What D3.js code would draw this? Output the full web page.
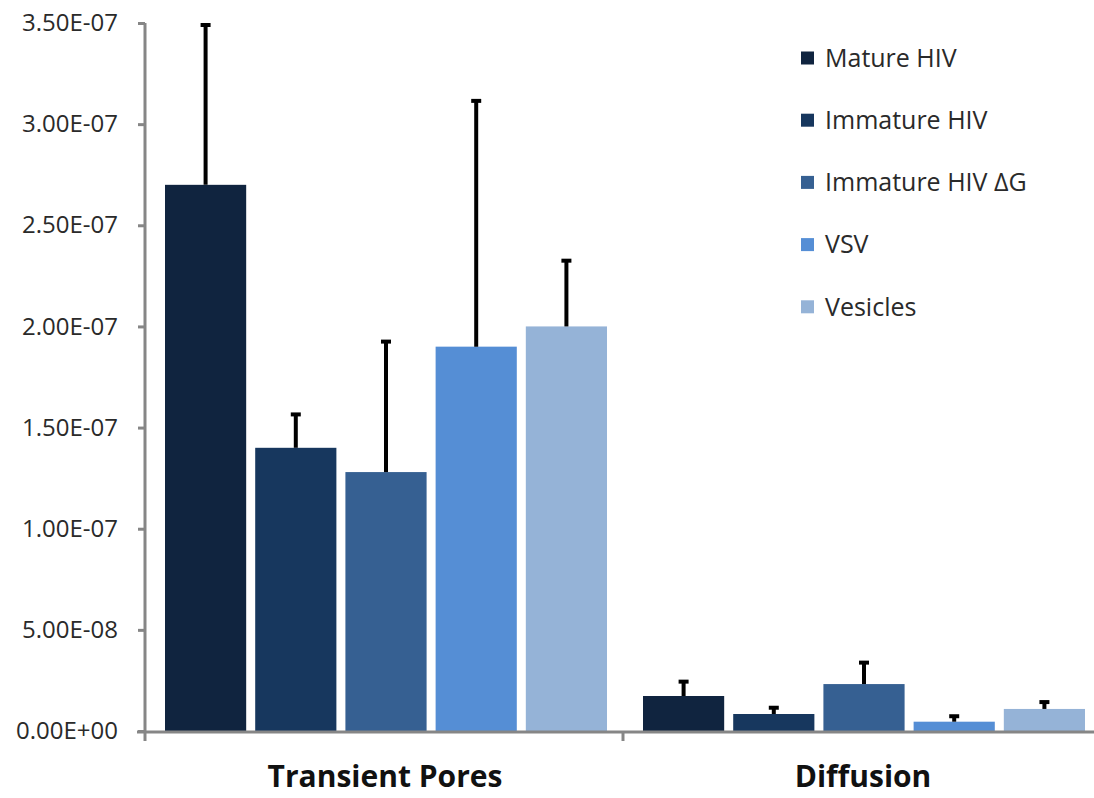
<!DOCTYPE html>
<html><head><meta charset="utf-8">
<script src="https://cdn.jsdelivr.net/npm/d3@7"></script>
<style>body{margin:0;background:#fff}svg{display:block}</style>
</head><body><svg id="c" width="1094" height="798"></svg>
<script>
const categories = ["Transient Pores", "Diffusion"];
const seriesNames = ["Mature HIV", "Immature HIV", "Immature HIV \u0394G", "VSV", "Vesicles"];
const colors = ["#10243f", "#17375e", "#366092", "#558ed5", "#95b3d7"];
const matureHIV = [2.70e-7, 1.73e-8];
const immatureHIV = [1.40e-7, 0.84e-8];
const immatureHIVdG = [1.28e-7, 2.32e-8];
const vsv = [1.90e-7, 0.46e-8];
const vesicles = [2.00e-7, 1.09e-8];
const errMature = [0.79e-7, 0.71e-8];
const errImmature = [0.165e-7, 0.31e-8];
const errImmaturedG = [0.645e-7, 1.06e-8];
const errVsv = [1.215e-7, 0.27e-8];
const errVesicles = [0.325e-7, 0.34e-8];
const yTicks = [0, 5e-8, 1e-7, 1.5e-7, 2e-7, 2.5e-7, 3e-7, 3.5e-7];

const values = [matureHIV, immatureHIV, immatureHIVdG, vsv, vesicles];
const errors = [errMature, errImmature, errImmaturedG, errVsv, errVesicles];

const svg = d3.select("#c");
const x0 = d3.scaleBand().domain(categories).range([145, 1101]).paddingInner(0).paddingOuter(0);
const x1 = d3.scaleBand().domain(seriesNames).range([20, 478 - 16]).paddingInner(0.1).paddingOuter(0);
const y = d3.scaleLinear().domain([0, 3.5e-7]).range([731, 23]);

const fmt = v => {
  if (v === 0) return "0.00E+00";
  const e = Math.floor(Math.log10(v) + 1e-9);
  const m = v / Math.pow(10, e);
  return m.toFixed(2) + "E" + (e < 0 ? "-" : "+") + String(Math.abs(e)).padStart(2, "0");
};

// bars
const g = svg.append("g");
categories.forEach((c, ci) => {
  seriesNames.forEach((s, si) => {
    const v = values[si][ci];
    g.append("rect")
      .attr("x", x0(c) + x1(s))
      .attr("y", y(v))
      .attr("width", x1.bandwidth())
      .attr("height", y(0) - y(v))
      .attr("fill", colors[si]);
  });
});

// y axis
const yAxis = d3.axisLeft(y).tickValues(yTicks).tickFormat(fmt).tickSize(7).tickPadding(20);
const ya = svg.append("g").attr("transform", "translate(145,0)").call(yAxis);
ya.select(".domain").attr("stroke", "#868686").attr("stroke-width", 3).attr("d", "M0,23V733");
ya.selectAll(".tick line").attr("stroke", "#868686").attr("stroke-width", 3);
ya.selectAll(".tick text").attr("fill", "#2a2a2a").style("font-family", "'Open Sans', sans-serif").style("font-size", "24px");

// x axis
const xa = svg.append("g").attr("transform", "translate(0,732)");
xa.append("line").attr("x1", 137).attr("x2", 1094).attr("y1", 0).attr("y2", 0).attr("stroke", "#868686").attr("stroke-width", 3);
categories.concat([null]).forEach((c, i) => {
  const xx = c ? x0(c) : x0.range()[1];
  xa.append("line").attr("x1", xx).attr("x2", xx).attr("y1", 0).attr("y2", 9).attr("stroke", "#868686").attr("stroke-width", 3);
});
categories.forEach(c => {
  xa.append("text").attr("x", x0(c) + x0.bandwidth() / 2 + 1).attr("y", 55)
    .attr("text-anchor", "middle").attr("fill", "#111")
    .style("font-family", "'Open Sans', sans-serif").style("font-weight", "bold").style("font-size", "30px")
    .text(c);
});

// error bars
const eg = svg.append("g");
categories.forEach((c, ci) => {
  seriesNames.forEach((s, si) => {
    const v = values[si][ci], e = errors[si][ci];
    const cx = x0(c) + x1(s) + x1.bandwidth() / 2;
    eg.append("line").attr("x1", cx).attr("x2", cx).attr("y1", y(v)).attr("y2", y(v + e))
      .attr("stroke", "#000").attr("stroke-width", 4);
    eg.append("line").attr("x1", cx - 5).attr("x2", cx + 5).attr("y1", y(v + e)).attr("y2", y(v + e))
      .attr("stroke", "#000").attr("stroke-width", 4);
  });
});

// legend
const lg = svg.append("g");
seriesNames.forEach((s, i) => {
  const cy = 58 + i * 62.2;
  lg.append("rect").attr("x", 801).attr("y", cy - 6.5).attr("width", 13).attr("height", 13).attr("fill", colors[i]);
  lg.append("text").attr("x", 825).attr("y", cy).attr("dy", "0.35em").attr("fill", "#2a2a2a")
    .style("font-family", "'Open Sans', sans-serif").style("font-size", "25px").text(s);
});
</script>
</body></html>
